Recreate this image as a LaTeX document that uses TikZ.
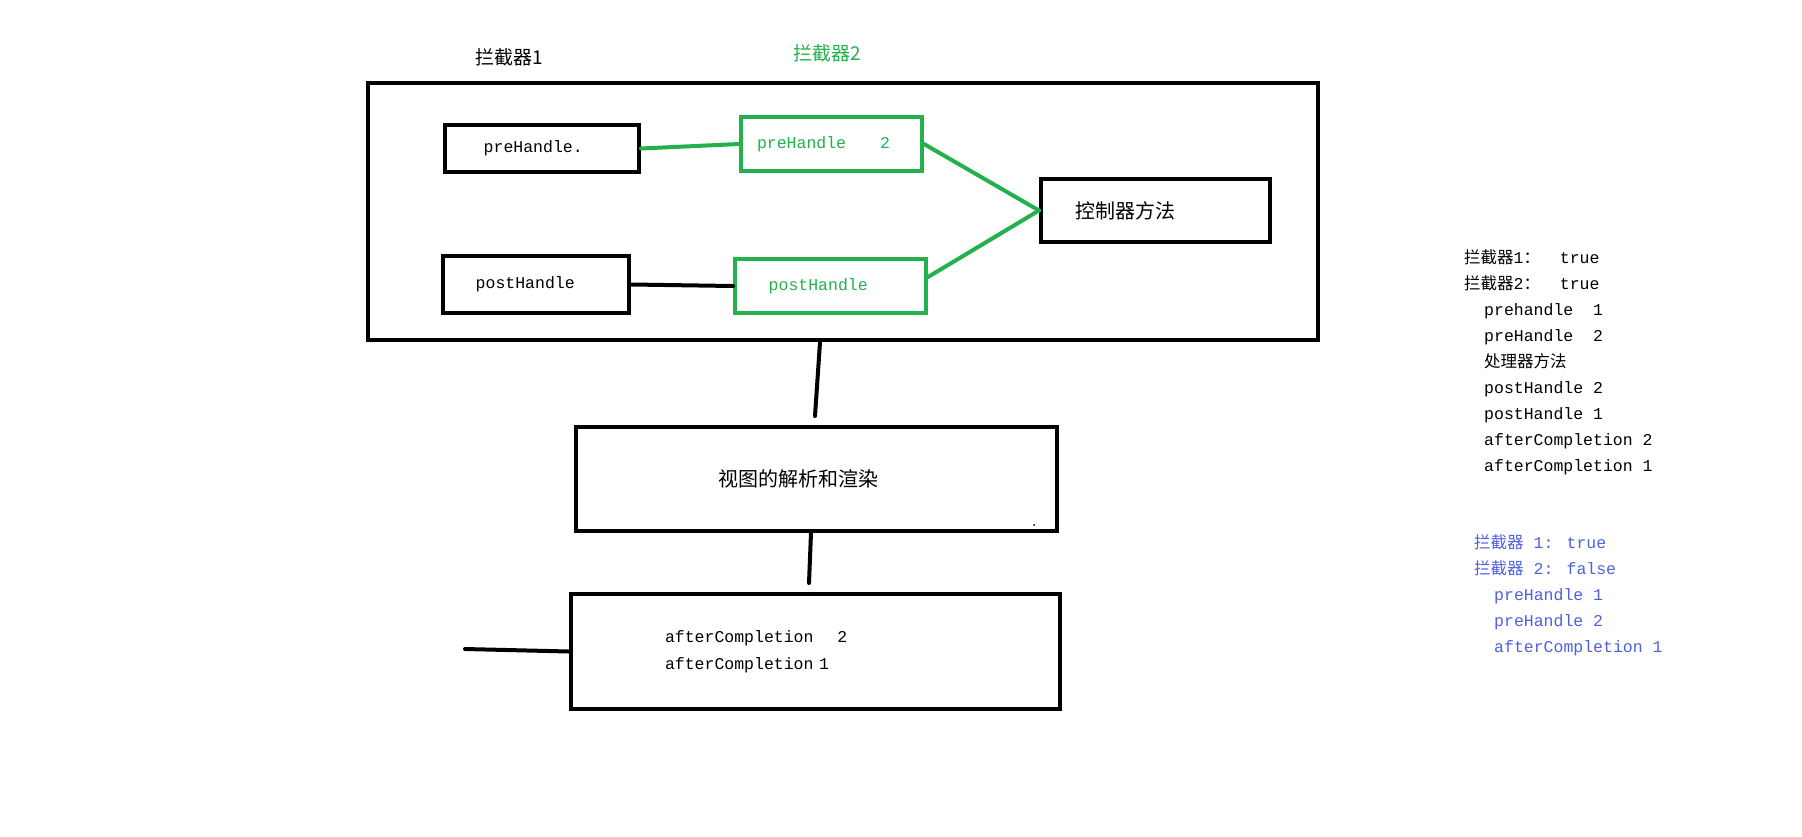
\documentclass[tikz,border=0pt]{standalone}
\usepackage{fontspec}
\setmainfont{Liberation Mono}
\newfontfamily\cjk{Noto Sans CJK SC}
\definecolor{paintgreen}{RGB}{34,177,76}
\definecolor{noteblue}{RGB}{78,96,226}
\begin{document}
\begin{tikzpicture}[x=1pt,y=-1pt,
	box/.style={draw,line width=4pt,inner sep=0pt,font=\fontsize{16.5}{20}\selectfont},
	greenbox/.style={box,draw=paintgreen,text=paintgreen},
	padded/.style 2 args={text width=#1,inner xsep=#2,align=left},
	link/.style={line width=4pt,line cap=round},
	tag/.style={font=\cjk\fontsize{19}{22}\selectfont},
	note/.style={anchor=north west,align=left,inner sep=0pt,font=\fontsize{16.5}{26}\selectfont}]
	\useasboundingbox (0,0) rectangle (1802,836);
	\node[box,line width=4.5pt,minimum width=950,minimum height=257] (outer) at (843,211.5) {};
	\node[tag] (lab1) at (509,57) {拦截器1};
	\node[tag,text=paintgreen] (lab2) at (827,53) {拦截器2};
	\node[box,padded={116.6}{38.7},minimum height=47] (pre1) at (542,148.5) {preHandle.};
	\node[greenbox,padded={149}{16},minimum height=54] (pre2) at (831.5,144) {preHandle\hspace{34pt}2};
	\node[box,padded={120.6}{32.7},minimum height=57] (post1) at (536,284.5) {postHandle};
	\node[greenbox,padded={123.6}{33.7},minimum height=54] (post2) at (830.5,286) {\raisebox{-4pt}{postHandle}};
	\node[box,padded={160}{34.5},minimum height=63,font=\cjk\fontsize{20}{24}\selectfont] (ctrl) at (1155.5,210.5) {控制器方法};
	\node[box,padded={197}{142},minimum height=104,font=\cjk\fontsize{20}{24}\selectfont] (view) at (816.5,479) {视图的解析和渲染};
	\node[box,padded={301}{94},minimum height=115,font=\fontsize{16.5}{26.5}\selectfont] (after) at (815.5,651.5) {afterCompletion\hspace{24pt}2\\afterCompletion 1};
	\fill (1034,525) circle (1);
	\draw[link,paintgreen] (pre1.east) -- (pre2.west);
	\draw[link] (post1.east) -- (post2.west);
	\draw[link,paintgreen] (pre2.east) -- (ctrl.west);
	\draw[link,paintgreen] ([yshift=9]post2.east) -- (ctrl.west);
	\coordinate (v1) at (815,416);
	\coordinate (v2) at (809,583);
	\coordinate (tail) at (465,649);
	\draw[link] ([xshift=-23]outer.south) -- (v1);
	\draw[link] ([xshift=-5.5]view.south) -- (v2);
	\draw[link] (tail) -- (after.west);
	\node[note] (trace1) at (1464,249) {{\cjk 拦截器}1{\cjk ：}\ \ true\\
		{\cjk 拦截器}2{\cjk ：}\ \ true\\
		\hspace*{20pt}prehandle\ \ 1\\
		\hspace*{20pt}preHandle\ \ 2\\
		\hspace*{20pt}{\cjk 处理器方法}\\
		\hspace*{20pt}postHandle 2\\
		\hspace*{20pt}postHandle 1\\
		\hspace*{20pt}afterCompletion 2\\
		\hspace*{20pt}afterCompletion 1};
	\node[note,text=noteblue] (trace2) at (1474,534) {{\cjk 拦截器} 1: true\\
		{\cjk 拦截器} 2: false\\
		\hspace*{20pt}preHandle 1\\
		\hspace*{20pt}preHandle 2\\
		\hspace*{20pt}afterCompletion 1};
\end{tikzpicture}
\end{document}
